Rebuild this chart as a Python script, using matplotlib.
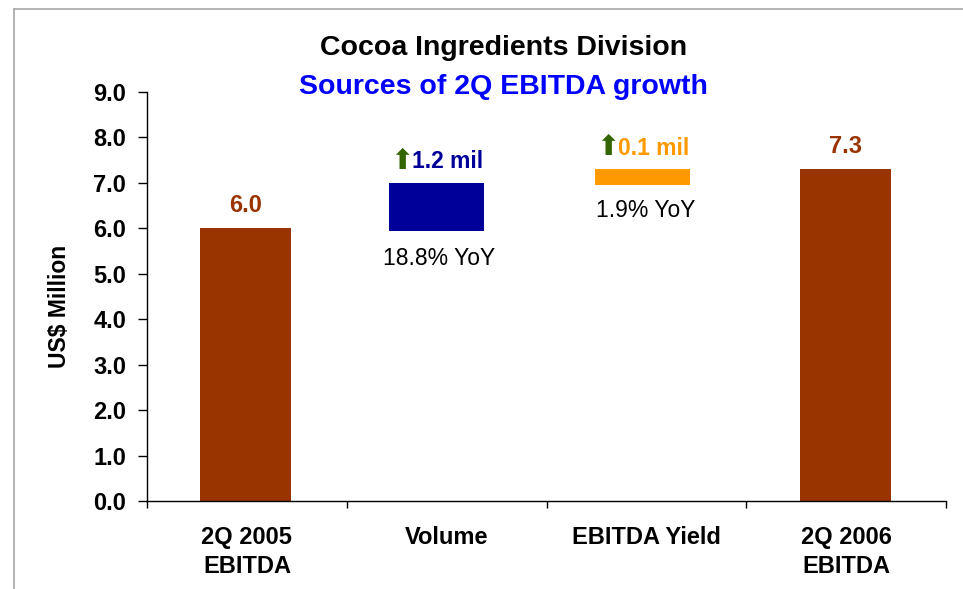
import matplotlib
matplotlib.use("Agg")
import matplotlib.pyplot as plt
from matplotlib.lines import Line2D

plt.rcParams['font.family'] = ['Liberation Sans', 'DejaVu Sans']

# data (US$ million)
categories = ['2Q 2005\nEBITDA', 'Volume', 'EBITDA Yield', '2Q 2006\nEBITDA']
bar_bottoms = [0.0, 5.95, 6.95, 0.0]
bar_tops = [6.0, 7.0, 7.3, 7.3]
total_labels = ['6.0', None, None, '7.3']
change_labels = [None, '1.2 mil', '0.1 mil', None]
yoy_labels = [None, '18.8% YoY', '1.9% YoY', None]
y_ticks = [0, 1, 2, 3, 4, 5, 6, 7, 8, 9]

# styling
bar_colors = ['#993300', '#000099', '#FF9900', '#993300']
bar_centers = [-0.007, 0.949, 1.980, 2.998]
bar_widths = [0.456, 0.476, 0.476, 0.456]
arrow_green = '#336600'

fig = plt.figure(figsize=(9.63, 5.89), dpi=100)
ax = fig.add_axes([147/963, 88/589, 799/963, 409/589])

heights = [t - b for t, b in zip(bar_tops, bar_bottoms)]
ax.bar(bar_centers, heights, width=bar_widths, bottom=bar_bottoms,
       color=bar_colors, edgecolor='none', zorder=2)

for i in range(len(categories)):
    if total_labels[i]:
        ax.annotate(total_labels[i], xy=(bar_centers[i], bar_tops[i]),
                    xytext=(0, 23), textcoords='offset pixels',
                    ha='center', va='center', fontsize=17, fontweight='bold',
                    color=bar_colors[i])
    if change_labels[i]:
        ax.annotate('\u2b06', xy=(bar_centers[i], bar_tops[i]),
                    xytext=(-35, 22), textcoords='offset pixels',
                    ha='center', va='center', fontsize=20,
                    family=['DejaVu Sans'], color=arrow_green)
        ax.annotate(change_labels[i], xy=(bar_centers[i], bar_tops[i]),
                    xytext=(-24, 21), textcoords='offset pixels',
                    ha='left', va='center', fontsize=16.5, fontweight='bold',
                    color=bar_colors[i])
    if yoy_labels[i]:
        off = -28 if i == 1 else -25
        ax.annotate(yoy_labels[i], xy=(bar_centers[i], bar_bottoms[i]),
                    xytext=(3, off), textcoords='offset pixels',
                    ha='center', va='center', fontsize=16.5, color='black')

ax.set_xlim(-0.5, 3.5)
ax.set_ylim(0, 9)
ax.set_yticks(y_ticks)
ax.set_yticklabels(['%.1f' % v for v in y_ticks], fontsize=17, fontweight='bold')
ax.tick_params(axis='y', length=6.5, width=1, pad=8.5, direction='out')

ax.set_xticks([-0.5, 0.5, 1.5, 2.5, 3.5])
ax.set_xticklabels([])
ax.tick_params(axis='x', which='major', length=5, width=1, direction='out')
ax.set_xticks([0, 1, 2, 3], minor=True)
ax.set_xticklabels(categories, minor=True, fontsize=17, fontweight='bold',
                   linespacing=1.35)
ax.tick_params(axis='x', which='minor', length=0, pad=18)

for s in ['top', 'right']:
    ax.spines[s].set_visible(False)
for s in ['left', 'bottom']:
    ax.spines[s].set_linewidth(1)

fig.text(59/963, 1 - 306/589, 'US$ Million', rotation=90, ha='center', va='center',
         fontsize=16.5, fontweight='bold')
fig.text(503.5/963, 1 - 48/589, 'Cocoa Ingredients Division', ha='center', va='center',
         fontsize=20.5, fontweight='bold', color='black')
fig.text(503.5/963, 1 - 87/589, 'Sources of 2Q EBITDA growth', ha='center', va='center',
         fontsize=20.5, fontweight='bold', color='#0000FF')

# grey frame (top and left edges only visible)
fig.add_artist(Line2D([14/963, 14/963], [0, 1 - 9/589], transform=fig.transFigure,
                      color='#a8a8a8', linewidth=1.2))
fig.add_artist(Line2D([14/963, 1], [1 - 9/589, 1 - 9/589], transform=fig.transFigure,
                      color='#a8a8a8', linewidth=1.2))

plt.savefig('out.png', dpi=100)
